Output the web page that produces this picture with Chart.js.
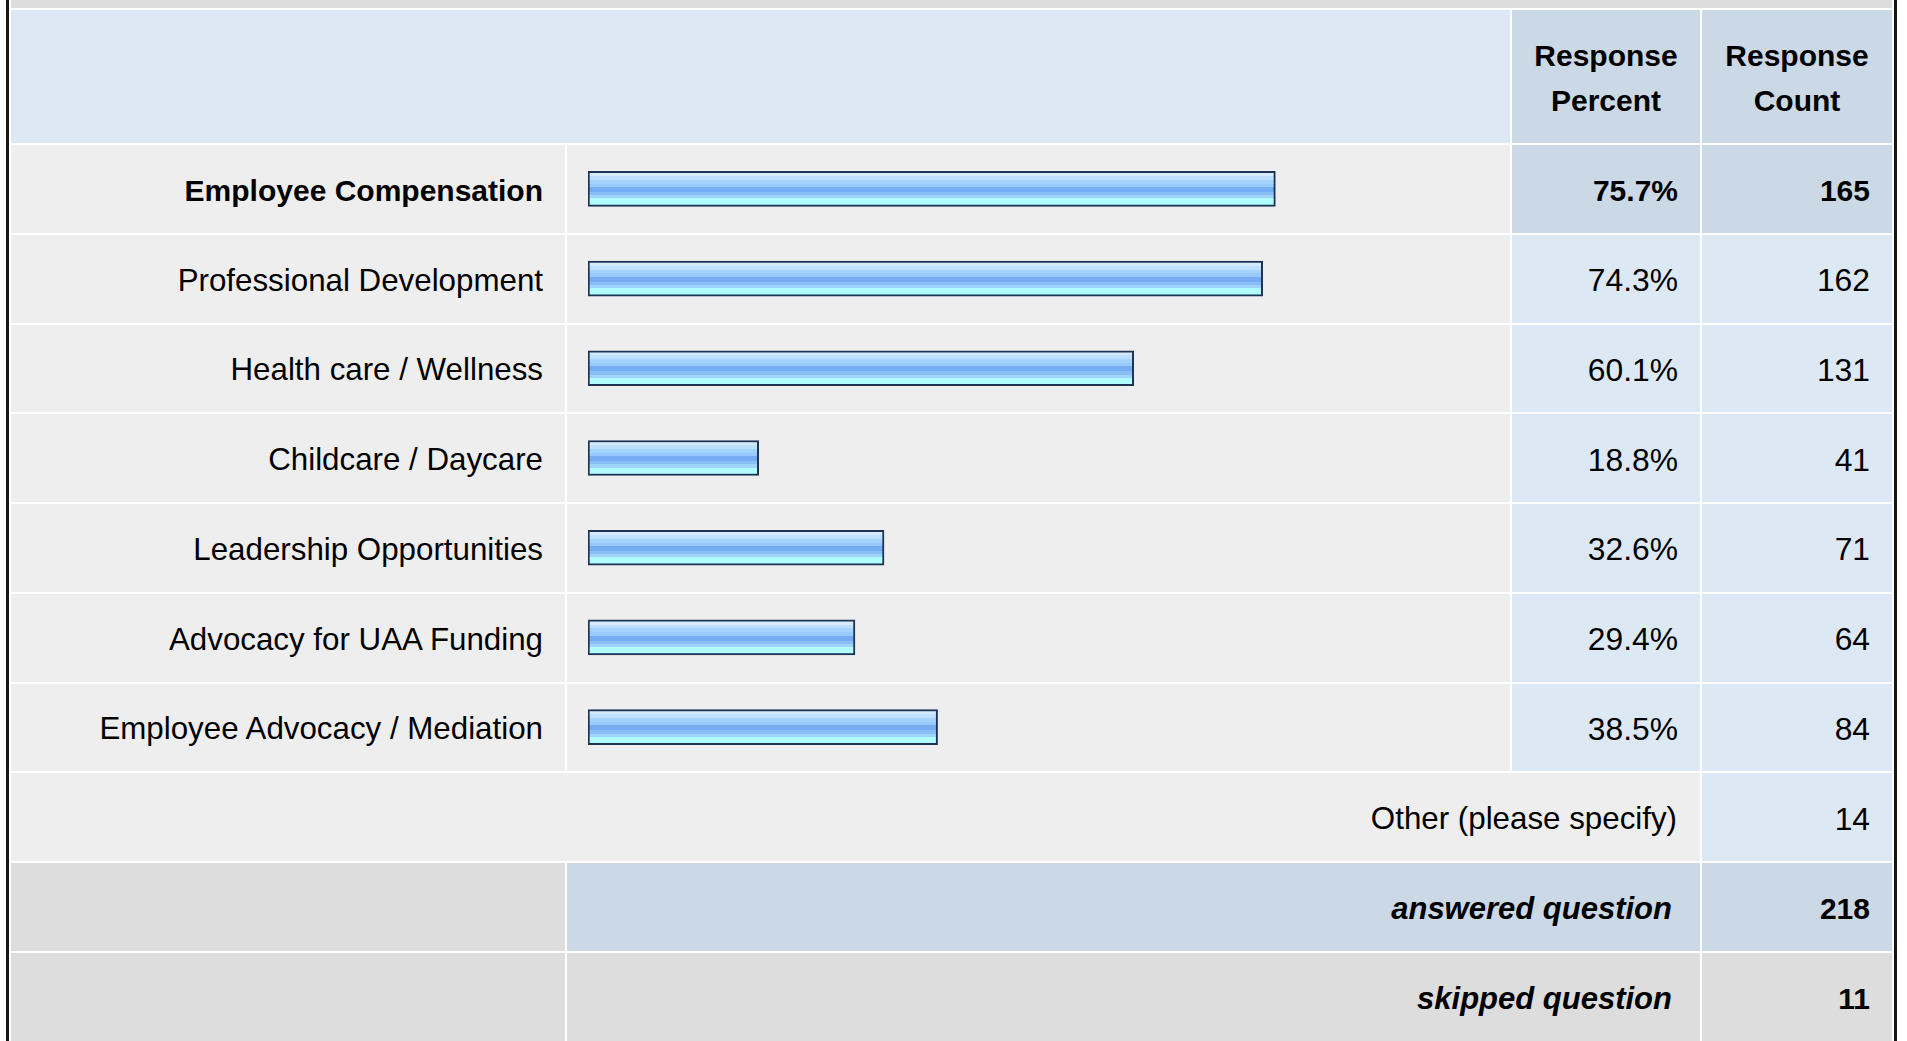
<!DOCTYPE html>
<html lang="en">
<head>
    <meta charset="UTF-8">
    <title>Survey Responses</title>
    <script src="https://cdn.jsdelivr.net/npm/chart.js"></script>
    <style>
        html, body {
            margin: 0;
            padding: 0;
            background: #ffffff;
            width: 1907px;
            height: 1041px;
            overflow: hidden;
            font-family: "Liberation Sans", Arial, sans-serif;
            color: #000;
        }
        .edge {
            position: absolute;
            top: 0;
            width: 3px;
            height: 1041px;
            background: #151515;
        }
        .grid {
            position: absolute;
            left: 9px;
            top: 0;
            width: 1881px;
            padding: 0 2px;
            display: grid;
            grid-template-columns: 554px 943px 188px 190px;
            grid-template-rows: 8px 133px repeat(10, 87.75px);
            gap: 2px;
            background: #ffffff;
        }
        .grid > div {
            display: flex;
            align-items: center;
            justify-content: flex-end;
            box-sizing: border-box;
            white-space: nowrap;
            padding-top: 4px;
        }
        .band { background: #dddddd; grid-column: 1 / 5; }
        .head { background: #dde8f5; grid-column: 1 / 3; }
        .headcol {
            background: #cbd8e6;
            justify-content: center !important;
            text-align: center;
            font-weight: bold;
            font-size: 30px;
            line-height: 45px;
            padding-top: 3px !important;
        }
        .label { background: #eeeeee; font-size: 31.3px; padding-right: 22px; }
        .barcell { background: #eeeeee; }
        .num { background: #dde8f5; font-size: 31.8px; padding-right: 22px; }
        .hi { background: #cbd8e6; }
        .bold { font-weight: bold; font-size: 30px; }
        .other { background: #eeeeee; grid-column: 1 / 4; font-size: 31.3px; padding-right: 23px; }
        .sumlabel { font-weight: bold; font-style: italic; font-size: 31px; grid-column: 2 / 4; padding-right: 28px; }
        .gray { background: #dddddd; }
        .chart-box {
            position: absolute;
            left: 567px;
            top: 144px;
            width: 943px;
            height: 628px;
        }
    </style>
</head>
<body>
    <div class="edge" style="left:6px"></div>
    <div class="edge" style="left:1894px"></div>
    <div class="grid" id="table"></div>
    <div class="chart-box">
        <canvas id="responseChart"></canvas>
    </div>

    <script>
        const categories = [
            'Employee Compensation',
            'Professional Development',
            'Health care / Wellness',
            'Childcare / Daycare',
            'Leadership Opportunities',
            'Advocacy for UAA Funding',
            'Employee Advocacy / Mediation'
        ];
        const percents = [75.7, 74.3, 60.1, 18.8, 32.6, 29.4, 38.5];
        const counts = [165, 162, 131, 41, 71, 64, 84];
        const otherLabel = 'Other (please specify)';
        const otherCount = 14;
        const answeredCount = 218;
        const skippedCount = 11;

        const table = document.getElementById('table');
        function cell(cls, text) {
            const d = document.createElement('div');
            d.className = cls;
            if (text !== undefined) d.innerHTML = text;
            table.appendChild(d);
        }

        cell('band');
        cell('head');
        cell('headcol', 'Response<br>Percent');
        cell('headcol', 'Response<br>Count');
        categories.forEach((name, i) => {
            const b = i === 0 ? ' bold' : '';
            const h = i === 0 ? ' hi' : '';
            cell('label' + b, name);
            cell('barcell');
            cell('num' + b + h, percents[i].toFixed(1) + '%');
            cell('num' + b + h, counts[i]);
        });
        cell('other', otherLabel);
        cell('num', otherCount);
        cell('gray');
        cell('sumlabel hi', 'answered question');
        cell('num bold hi', answeredCount);
        cell('gray');
        cell('sumlabel gray', 'skipped question');
        cell('num bold gray', skippedCount);

        // banded fill like the survey bar image
        const bands = [
            [0.00, '#d6eaff'], [0.10, '#bfdfff'], [0.22, '#a5d3ff'], [0.34, '#98c9ff'],
            [0.44, '#76acf1'], [0.60, '#89bef8'], [0.70, '#a1d3ff'], [0.80, '#b0fcff']
        ];
        function barFill(ctx) {
            const chart = ctx.chart;
            if (!chart.chartArea) return '#9cc9ff';
            const y = chart.scales.y.getPixelForValue(ctx.dataIndex);
            const g = chart.ctx.createLinearGradient(0, y - 16, 0, y + 16);
            bands.forEach((b, k) => {
                const end = k + 1 < bands.length ? bands[k + 1][0] : 1;
                g.addColorStop(b[0], b[1]);
                g.addColorStop(end, b[1]);
            });
            return g;
        }

        new Chart(document.getElementById('responseChart'), {
            type: 'bar',
            data: {
                labels: categories,
                datasets: [{
                    data: percents,
                    backgroundColor: barFill,
                    borderColor: '#1c3354',
                    borderWidth: 2,
                    borderSkipped: false,
                    barThickness: 35
                }]
            },
            options: {
                indexAxis: 'y',
                responsive: true,
                maintainAspectRatio: false,
                animation: false,
                layout: {
                    padding: { left: 21, right: 14, top: 0, bottom: 0 }
                },
                scales: {
                    x: { min: 0, max: 100, display: false },
                    y: { display: false }
                },
                plugins: {
                    legend: { display: false },
                    tooltip: { enabled: false }
                }
            }
        });
    </script>
</body>
</html>
